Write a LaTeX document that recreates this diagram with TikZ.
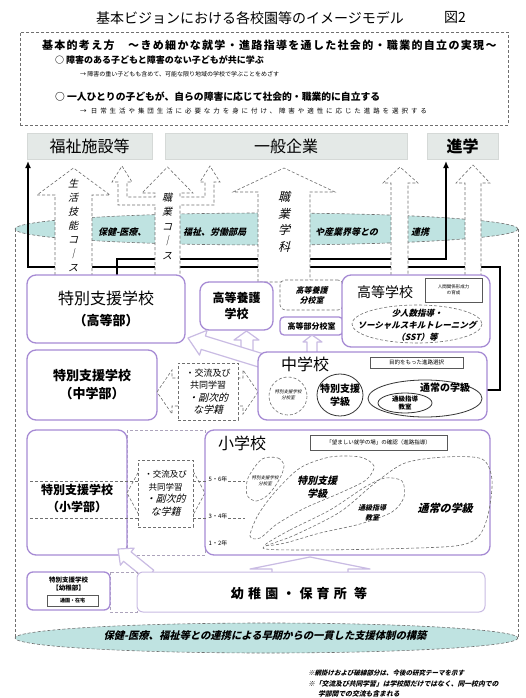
\documentclass[tikz,border=0pt]{standalone}
\usepackage{fontspec}
\setmainfont{Noto Sans CJK JP}
\newfontfamily\jpsl{Noto Sans CJK JP}[FakeSlant=0.25]
\usetikzlibrary{arrows.meta}
\definecolor{purp}{HTML}{A68BD4}
\definecolor{lav}{HTML}{C9BBE3}
\definecolor{teal1}{HTML}{BFE3E1}
\definecolor{gbox}{HTML}{E4E9E7}
\definecolor{gline}{HTML}{6F6F6F}
\newcommand\fsz[2]{\fontsize{#1}{#2}\selectfont}
\newcommand\lsp[1]{\addfontfeatures{LetterSpace=#1}}
\tikzset{
 every node/.style={inner sep=0pt, outer sep=0pt},
 pbox/.style={draw=purp, line width=1.3pt, rounded corners=9pt, fill=white},
 dbox/.style={draw=gline, densely dashed, line width=0.6pt},
 wfill/.style={draw=gline, densely dashed, line width=0.6pt, fill=white},
 lfill/.style={draw=lav, line width=1.2pt, fill=white, line join=round},
 blk/.style={line width=1.8pt, draw=black},
 gdest/.style={fill=gbox, draw=gbox!85!gray, line width=0.6pt},
 tinybox/.style={draw=gray!70!black, line width=0.5pt, fill=white},
 oval/.style={draw=black!80, line width=0.8pt},
}
\begin{document}
\begin{tikzpicture}[x=1pt,y=-1pt]
\useasboundingbox (0,0) rectangle (526,698);
\fill[white] (0,0) rectangle (526,698);

% title
\node[font=\fsz{14}{16}] (title) at (250,18) {基本ビジョンにおける各校園等のイメージモデル};
\node[font=\fsz{14}{16}] (fig) at (455,17) {図2};

% info box
\node[dbox, minimum width=488pt, minimum height=93pt] (info) at (264,78.5) {};
\node[anchor=west, font=\fsz{11}{13}\bfseries\lsp{12}] (l1) at (42,45) {基本的考え方　～きめ細かな就学・進路指導を通した社会的・職業的自立の実現～};
\node[anchor=west, font=\fsz{9}{11}\bfseries] (l2) at (55,60) {○ 障害のある子どもと障害のない子どもが共に学ぶ};
\node[anchor=west, font=\fsz{6}{8}] (l3) at (80,74) {→ 障害の重い子どもも含めて、可能な限り地域の学校で学ぶことをめざす};
\node[anchor=west, font=\fsz{9.8}{11}\bfseries] (l4) at (55,97) {○ 一人ひとりの子どもが、自らの障害に応じて社会的・職業的に自立する};
\node[anchor=west, font=\fsz{6.5}{8}\lsp{45}] (l5) at (80,111) {→ 日常生活や集団生活に必要な力を身に付け、障害や適性に応じた進路を選択する};

% destinations
\node[gdest, minimum width=125pt, minimum height=26pt, font=\fsz{16}{18}] (fw) at (89.5,146) {福祉施設等};
\node[gdest, minimum width=242pt, minimum height=26pt, font=\fsz{16}{18}] (ip) at (286,146) {一般企業};
\node[gdest, minimum width=71pt, minimum height=26pt, font=\fsz{16}{18}\bfseries] (sg) at (462.5,146) {進学};

% cylinder
\draw[dbox] (15,229) -- (15,638);
\draw[dbox] (518,229) -- (518,638);
\draw[dbox, fill=teal1] (266.5,229) ellipse [x radius=251.5, y radius=16];
\draw[dbox, fill=teal1] (266.5,638) ellipse [x radius=251.5, y radius=15];
\tikzset{tband/.style={anchor=west, font=\jpsl\fsz{9}{10}\bfseries}}
\node[tband] (tb1) at (98,232) {保健-医療、};
\node[tband] (tb2) at (183,232) {福祉、労働部局};
\node[tband] (tb3) at (315,232) {や産業界等との};
\node[tband] (tb4) at (411,232) {連携};
\node[font=\jpsl\fsz{10.3}{12}\bfseries] (bt) at (265,636) {保健-医療、福祉等との連携による早期からの一貫した支援体制の構築};

% black routes
\coordinate (bA) at (117,276);
\coordinate (bB) at (487,390);
\draw[blk, -{Latex[length=7pt,width=6pt]}] (bA) |- (446,259) -- (446,161);
\draw[blk, -{Latex[length=7pt,width=6pt]}] (bB) -- (500,390) -- (500,267) -- (28,267) -- (28,161);

% white arrows
\draw[wfill] (55,280) -- (55,195) -- (37,195) -- (73.5,168) -- (110,195) -- (92,195) -- (92,280) -- cycle;
\draw[wfill] (155,280) -- (155,205) -- (118,205) -- (118,182) -- (112,182) -- (122,166) -- (132,182) -- (127,182) -- (127,197) -- (155,197) -- (155,193) -- (142,193) -- (167.5,167) -- (193,193) -- (180,193) -- (180,197) -- (205,197) -- (205,182) -- (200,182) -- (210,166) -- (220,182) -- (214,182) -- (214,205) -- (180,205) -- (180,280) -- cycle;
\draw[wfill] (258,282) -- (258,192) -- (233,192) -- (284,168) -- (335,192) -- (310,192) -- (310,282) -- cycle;
\draw[wfill] (391,280) -- (391,183) -- (383,183) -- (400,167) -- (418,183) -- (408,183) -- (408,280) -- cycle;
\draw[wfill] (465,280) -- (465,183) -- (456,183) -- (473,165) -- (490,183) -- (481,183) -- (481,280) -- cycle;
\node[align=center, font=\jpsl\fsz{10}{14}] (v1) at (73,225) {生\\活\\技\\能\\コ\\｜\\ス};
\node[align=center, font=\jpsl\fsz{10}{14.5}] (v2) at (167,226) {職\\業\\コ\\｜\\ス};
\node[align=center, font=\jpsl\fsz{12}{16.5}] (v3) at (284,222) {職\\業\\学\\科};

% upper schools
\node[pbox, minimum width=158pt, minimum height=68pt, align=center, font=\fsz{16}{21}] (hs) at (106,309) {特別支援学校\\\fsz{13}{15}\bfseries（高等部）};
\node[pbox, minimum width=73pt, minimum height=48pt, align=center, font=\fsz{12}{16}\bfseries] (ks) at (236.5,306) {高等養護\\学校};
\node[wfill, rounded corners=5pt, minimum width=63pt, minimum height=30pt, align=center, font=\jpsl\fsz{8}{10}\bfseries] (kb) at (311.5,295) {高等養護\\分校室};
\node[pbox, rounded corners=4pt, minimum width=63pt, minimum height=18pt, font=\fsz{8}{10}\bfseries] (kbs) at (311.5,326) {高等部分校室};
\node[pbox, minimum width=148pt, minimum height=72pt] (hsc) at (416,311) {};
\node[font=\fsz{14}{16}] (hsct) at (385,292) {高等学校};
\node[tinybox, minimum width=57pt, minimum height=24pt, align=center, font=\fsz{4.5}{6}] (hr) at (453.5,290) {人間関係形成力\\の育成};
\draw[dbox] (417,324) ellipse [x radius=65, y radius=19];
\node[align=center, font=\jpsl\fsz{8.5}{12}\bfseries] (sst) at (417,325) {少人数指導・\\ソーシャルスキルトレーニング\\（SST）等};

% lavender arrows (upper)
\draw[lfill] (241,356) -- (241,340) -- (234,340) -- (246.5,331) -- (259,340) -- (253,340) -- (253,356) -- cycle;
\draw[lfill] (307,356) -- (307,342) -- (303,342) -- (312,335) -- (322,342) -- (317,342) -- (317,356) -- cycle;
\draw[lfill] (268.1,355.3) -- (205.4,336.0) -- (207.1,330.3) -- (188,338) -- (199.5,355.1) -- (201.2,349.4) -- (263.9,368.7) -- cycle;

% middle level
\node[pbox, minimum width=130pt, minimum height=70pt, align=center, font=\fsz{13}{18}\bfseries] (cb) at (92,385) {特別支援学校\\（中学部）};
\draw[wfill] (157,392) -- (172,370) -- (172,378) -- (243,378) -- (243,370) -- (258,392) -- (243,414) -- (243,406) -- (172,406) -- (172,414) -- cycle;
\node[wfill, minimum width=60pt, minimum height=57pt, align=center, font=\fsz{9}{12.5}] (ex1) at (208,391.5) {・交流及び\\共同学習\\\jpsl\fsz{10}{12.5}・副次的\\\jpsl\fsz{10}{12.5}な学籍};
\node[pbox, minimum width=229pt, minimum height=68pt] (jh) at (372.5,386) {};
\node[font=\fsz{16}{18}] (jht) at (305,364) {中学校};
\node[tinybox, minimum width=93pt, minimum height=11pt, font=\fsz{5.5}{6}] (mk) at (416.5,362.5) {目的をもった進路選択};
\draw[dbox] (288,396) circle [radius=19];
\node[align=center, font=\jpsl\fsz{4.5}{6}] (jb1) at (288,395) {特別支援学校\\分校室};
\draw[oval] (340,395) ellipse [x radius=23, y radius=21];
\node[align=center, font=\fsz{10}{13}\bfseries] (jb2) at (340,395) {特別支援\\学級};
\draw[oval] (425,398.5) ellipse [x radius=57, y radius=18.5];
\node[font=\fsz{10}{12}\bfseries] (jb3) at (445,388) {通常の学級};
\draw[oval] (405,403) ellipse [x radius=27, y radius=10];
\node[align=center, font=\fsz{6.5}{7.5}\bfseries] (jb4) at (405,403) {通級指導\\教室};

% elementary level
\draw[dbox, draw=lav!60!gray] (127,430) rectangle (205,555);
\node[pbox, minimum width=100pt, minimum height=125pt] (sb) at (77,492.5) {};
\node[align=center, font=\fsz{12}{17}\bfseries] (sbt) at (77,498.5) {特別支援学校\\（小学部）};
\draw[wfill] (127,493) -- (140,469) -- (140,478) -- (192,478) -- (192,469) -- (205,493) -- (192,517) -- (192,508) -- (140,508) -- (140,517) -- cycle;
\node[wfill, minimum width=55pt, minimum height=67pt, align=center, font=\fsz{8.5}{12.5}] (ex2) at (165.5,493.5) {・交流及び\\共同学習\\\jpsl\fsz{10}{13}・副次的\\\jpsl\fsz{10}{13}な学籍};
\node[pbox, minimum width=285pt, minimum height=125pt] (el) at (347.5,492.5) {};
\node[font=\fsz{16}{18}] (elt) at (242,443) {小学校};
\node[tinybox, minimum width=137pt, minimum height=15pt, font=\fsz{5.5}{6}] (nz) at (378.5,442.5) {「望ましい就学の場」の確認（進路指導）};
\draw[dbox] (30,481) -- (138,481) (193,481) -- (245,481);
\draw[dbox] (30,518) -- (138,518) (193,518) -- (245,518);
\node[fill=white, inner sep=1pt, font=\fsz{6}{7}] (g56) at (218,479) {5・6年};
\node[fill=white, inner sep=1pt, font=\fsz{6}{7}] (g34) at (218,516) {3・4年};
\node[inner sep=1pt, font=\fsz{6}{7}] (g12) at (218,543) {1・2年};
% blobs
\draw[dbox] plot[smooth cycle] coordinates {(262,459) (278,458) (284,466) (279,480) (268,495) (256,501) (247,495) (248,478)};
\node[align=center, font=\jpsl\fsz{4.5}{6}] (sb1) at (265,481) {特別支援学校\\分校室};
\draw[dbox] plot[smooth cycle] coordinates {(250,536) (258,515) (275,492) (300,468) (330,457) (360,457) (374,466) (366,480) (340,493) (305,508) (277,524) (260,538)};
\node[align=center, font=\jpsl\fsz{10}{13}\bfseries] (sb2) at (317,487) {特別支援\\学級};
\draw[dbox] plot[smooth cycle] coordinates {(265,545) (290,530) (330,510) (365,487) (385,478) (402,481) (404,497) (392,512) (360,524) (320,533) (285,543)};
\node[align=center, font=\jpsl\fsz{7}{10}\bfseries] (sb3) at (372,513) {通級指導\\教室};
\draw[dbox] plot[smooth cycle] coordinates {(263,548) (295,535) (340,512) (375,483) (405,463) (445,457) (482,459) (492,480) (488,515) (478,537) (455,546) (380,549) (300,550)};
\node[font=\jpsl\fsz{11}{13}\bfseries] (sb4) at (445,508) {通常の学級};

% lavender arrows (lower)
\draw[lfill] (153.8,570.3) -- (131.1,551.9) -- (134.2,548.1) -- (118,549) -- (120.4,565.2) -- (123.5,561.3) -- (146.2,579.7) -- cycle;
\draw[lfill] (272,576) -- (272,569) -- (250,569) -- (310,557) -- (370,569) -- (348,569) -- (348,576) -- cycle;

% pre-school level
\draw[dbox, draw=lav!60!gray] (110,572) rectangle (137,612);
\node[pbox, rounded corners=6pt, minimum width=83pt, minimum height=38pt] (yb) at (68.5,591) {};
\node[align=center, font=\fsz{6.5}{8.5}\bfseries] (ybt) at (68.5,584) {特別支援学校\\【幼稚部】};
\node[tinybox, minimum width=51pt, minimum height=11pt, font=\fsz{5}{6}\bfseries] (ybs) at (72.5,600.5) {通園・在宅};
\node[draw=lav, line width=1pt, rounded corners=6pt, fill=white, minimum width=348pt, minimum height=40pt] (yk) at (311,592) {};
\node[font=\fsz{13}{15}\bfseries\lsp{32}] (ykt) at (299,593) {幼稚園・保育所 等};

% footnotes
\node[anchor=west, font=\jpsl\fsz{6.5}{8}\bfseries] (fn1) at (308,673) {※網掛けおよび破線部分は、今後の研究テーマを示す};
\node[anchor=west, font=\jpsl\fsz{6.8}{8}\bfseries] (fn2) at (308,684) {※「交流及び共同学習」は学校間だけではなく、同一校内での};
\node[anchor=west, font=\jpsl\fsz{6.8}{8}\bfseries] (fn3) at (318,694) {学部間での交流も含まれる};
\end{tikzpicture}
\end{document}
